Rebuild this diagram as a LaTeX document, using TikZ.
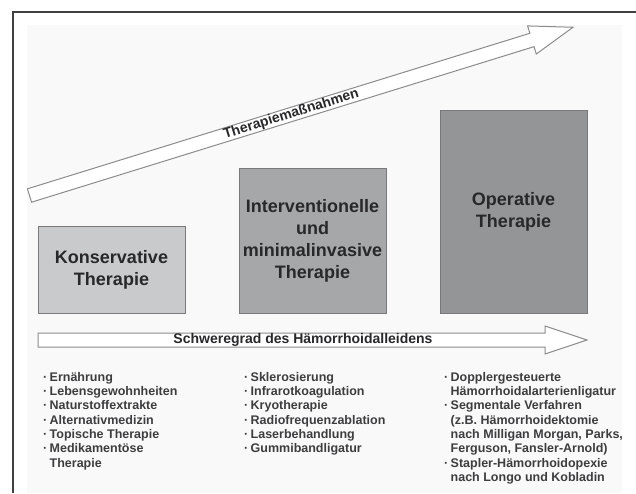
\documentclass[tikz,border=0pt]{standalone}
\usepackage{fontspec}
\setmainfont{Liberation Sans}
\definecolor{konsfill}{RGB}{201,202,204}
\definecolor{intfill}{RGB}{166,167,169}
\definecolor{opfill}{RGB}{148,149,151}
\definecolor{boxline}{RGB}{120,120,122}
\definecolor{arrline}{RGB}{140,140,140}
\definecolor{txt}{RGB}{40,40,42}
\newcommand{\mybul}{\makebox[6.5pt][l]{·}}
\newcommand{\myind}{\hspace*{6.5pt}}
\begin{document}
\begin{tikzpicture}[x=1pt,y=-1pt,
  frameline/.style={draw=black!75, line width=1.4pt},
  bigarrow/.style={draw=arrline, line width=1pt, fill=white, line join=miter},
  arrowlabel/.style={font=\bfseries\fontsize{14}{16}\selectfont, text=txt, inner sep=0pt},
  therbox/.style={draw=boxline, line width=0.9pt, inner sep=0pt, align=center,
    font=\bfseries\fontsize{18}{22}\selectfont, text=txt, minimum width=147pt},
  listtext/.style={font=\bfseries\fontsize{12.5}{14.3}\selectfont, text=txt!90,
    align=left, inner sep=0pt, anchor=north west}
]
\useasboundingbox (0,0) rectangle (636,493);
\fill[white] (0,0) rectangle (636,493);
\fill[black!2.5] (27,25) rectangle (622,493);
\draw[frameline] (13,493) -- (13,12) -- (636,12);

% rising arrow
\begin{scope}[shift={(29.5,195.5)}, rotate=17.2]
  \draw[bigarrow] (0,-7) -- (526,-7) -- (526,-14.7) -- (569,0) -- (526,14.7) -- (526,7) -- (0,7) -- cycle;
  \node[arrowlabel, rotate=17.2] (massn) at (274,0) {Therapiemaßnahmen};
\end{scope}

% boxes
\node[therbox, fill=konsfill, minimum height=87pt] (konserv) at (111.5,269.5) {Konservative\\Therapie};
\node[therbox, fill=intfill, minimum height=145pt] (interv) at (312.5,240.5) {Interventionelle\\und\\minimalinvasive\\Therapie};
\node[therbox, fill=opfill, minimum height=203pt] (operativ) at (513.5,211.5) {Operative\\Therapie};

% severity arrow
\draw[bigarrow] (38,333) -- (545,333) -- (545,326) -- (587,340) -- (545,354) -- (545,347) -- (38,347) -- cycle;
\node[arrowlabel, text height=10.2pt, text depth=3pt] (schwere) at (303,340) {Schweregrad des Hämorrhoidalleidens};

% lists
\node[listtext] (list1) at (43,372) {\mybul Ernährung\\
\mybul Lebensgewohnheiten\\
\mybul Naturstoffextrakte\\
\mybul Alternativmedizin\\
\mybul Topische Therapie\\
\mybul Medikamentöse\\
\myind Therapie};
\node[listtext] (list2) at (244,372) {\mybul Sklerosierung\\
\mybul Infrarotkoagulation\\
\mybul Kryotherapie\\
\mybul Radiofrequenzablation\\
\mybul Laserbehandlung\\
\mybul Gummibandligatur};
\node[listtext] (list3) at (444,372) {\mybul Dopplergesteuerte\\
\myind Hämorrhoidalarterienligatur\\
\mybul Segmentale Verfahren\\
\myind (z.B. Hämorrhoidektomie\\
\myind nach Milligan Morgan, Parks,\\
\myind Ferguson, Fansler-Arnold)\\
\mybul Stapler-Hämorrhoidopexie\\
\myind nach Longo und Kobladin};
\end{tikzpicture}
\end{document}
